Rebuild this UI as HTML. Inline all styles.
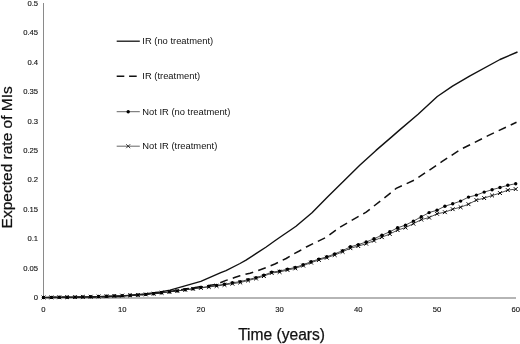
<!DOCTYPE html>
<html><head><meta charset="utf-8"><title>Expected rate of MIs</title>
<style>
html,body{margin:0;padding:0;background:#fff;}
body{width:520px;height:344px;overflow:hidden;}
svg{display:block;font-family:"Liberation Sans",Arial,sans-serif;}
</style></head><body>
<svg width="520" height="344" viewBox="0 0 520 344">
<rect width="520" height="344" fill="#fff"/>
<g stroke="#8a8a8a" stroke-width="1" fill="none">
<line x1="43.5" y1="3" x2="43.5" y2="298.3"/>
<line x1="43" y1="298" x2="516" y2="298" stroke="#9c9c9c" stroke-width="1.4"/>
</g>
<g font-size="7.7" fill="#111" stroke="#111" stroke-width="0.12"><text x="38.1" y="300.0" text-anchor="end">0</text><text x="38.1" y="270.6" text-anchor="end">0.05</text><text x="38.1" y="241.2" text-anchor="end">0.1</text><text x="38.1" y="211.8" text-anchor="end">0.15</text><text x="38.1" y="182.4" text-anchor="end">0.2</text><text x="38.1" y="153.0" text-anchor="end">0.25</text><text x="38.1" y="123.6" text-anchor="end">0.3</text><text x="38.1" y="94.2" text-anchor="end">0.35</text><text x="38.1" y="64.8" text-anchor="end">0.4</text><text x="38.1" y="35.4" text-anchor="end">0.45</text><text x="38.1" y="6.0" text-anchor="end">0.5</text><text x="43.5" y="311.6" text-anchor="middle">0</text><text x="122.2" y="311.6" text-anchor="middle">10</text><text x="200.9" y="311.6" text-anchor="middle">20</text><text x="279.6" y="311.6" text-anchor="middle">30</text><text x="358.3" y="311.6" text-anchor="middle">40</text><text x="437.0" y="311.6" text-anchor="middle">50</text><text x="515.7" y="311.6" text-anchor="middle">60</text></g>
<text x="281.6" y="340" font-size="15.6" text-anchor="middle" fill="#111" stroke="#111" stroke-width="0.25">Time (years)</text>
<text transform="translate(12,157.3) rotate(-90)" font-size="15.5" text-anchor="middle" fill="#111" stroke="#111" stroke-width="0.25">Expected rate of MIs</text>
<polyline points="43.5,297.5 83.0,297.1 122.0,296.2 130.0,295.4 145.0,294.0 160.0,292.0 170.0,290.1 200.8,281.4 220.8,272.7 226.0,270.6 240.0,263.5 246.0,260.1 257.5,252.7 266.2,247.0 274.9,240.8 283.2,235.0 290.6,230.0 296.0,226.2 312.0,212.8 328.0,196.4 344.0,180.8 360.0,165.0 376.0,150.4 392.0,136.6 400.0,129.6 418.1,114.3 437.3,96.5 452.5,86.2 470.0,75.8 500.0,59.5 517.5,52.0" fill="none" stroke="#111" stroke-width="1.4" stroke-linejoin="round"/>
<polyline points="43.5,297.5 83.0,297.1 122.0,296.4 130.0,295.6 150.0,294.0 170.0,291.5 200.8,286.6 215.0,284.6 218.0,283.6 226.0,280.4 230.0,279.2 234.6,277.5 240.0,275.7 250.0,273.2 257.5,270.8 266.2,267.6 274.9,264.0 286.2,258.5 292.4,254.6 299.3,251.0 306.3,247.0 326.4,237.2 340.0,227.1 366.2,212.1 391.3,192.4 396.2,188.4 415.1,179.7 442.2,161.4 461.1,149.2 488.1,135.7 516.5,122.2" fill="none" stroke="#111" stroke-width="1.5" stroke-dasharray="8 5.3" stroke-dashoffset="-5"/>
<polyline points="43.5,297.5 51.4,297.4 59.2,297.3 67.1,297.2 75.0,297.1 82.8,296.9 90.7,296.7 98.6,296.5 106.5,296.2 114.3,295.9 122.2,295.6 130.1,295.3 137.9,295.0 145.8,294.4 153.7,293.7 161.6,292.8 169.4,291.9 177.3,290.9 185.2,289.8 193.0,288.7 200.9,287.6 208.8,286.5 216.6,285.4 224.5,284.2 232.4,282.8 240.2,281.6 248.1,279.6 256.0,277.6 263.9,275.2 271.7,272.1 279.6,271.1 287.5,269.1 295.3,267.5 303.2,264.7 311.1,261.7 318.9,259.1 326.8,256.8 334.7,253.9 342.6,250.6 350.4,246.8 358.3,244.6 366.2,242.0 374.0,238.8 381.9,235.2 389.8,231.8 397.6,227.8 405.5,225.1 413.4,221.1 421.3,216.8 429.1,212.6 437.0,210.2 444.9,206.2 452.7,203.8 460.6,201.1 468.5,197.1 476.4,195.1 484.2,192.1 492.1,189.7 500.0,187.5 507.8,185.3 515.7,183.7" fill="none" stroke="#222" stroke-width="0.8"/>
<g fill="#000"><circle cx="43.5" cy="297.5" r="1.7"/><circle cx="51.4" cy="297.4" r="1.7"/><circle cx="59.2" cy="297.3" r="1.7"/><circle cx="67.1" cy="297.2" r="1.7"/><circle cx="75.0" cy="297.1" r="1.7"/><circle cx="82.8" cy="296.9" r="1.7"/><circle cx="90.7" cy="296.7" r="1.7"/><circle cx="98.6" cy="296.5" r="1.7"/><circle cx="106.5" cy="296.2" r="1.7"/><circle cx="114.3" cy="295.9" r="1.7"/><circle cx="122.2" cy="295.6" r="1.7"/><circle cx="130.1" cy="295.3" r="1.7"/><circle cx="137.9" cy="295.0" r="1.7"/><circle cx="145.8" cy="294.4" r="1.7"/><circle cx="153.7" cy="293.7" r="1.7"/><circle cx="161.6" cy="292.8" r="1.7"/><circle cx="169.4" cy="291.9" r="1.7"/><circle cx="177.3" cy="290.9" r="1.7"/><circle cx="185.2" cy="289.8" r="1.7"/><circle cx="193.0" cy="288.7" r="1.7"/><circle cx="200.9" cy="287.6" r="1.7"/><circle cx="208.8" cy="286.5" r="1.7"/><circle cx="216.6" cy="285.4" r="1.7"/><circle cx="224.5" cy="284.2" r="1.7"/><circle cx="232.4" cy="282.8" r="1.7"/><circle cx="240.2" cy="281.6" r="1.7"/><circle cx="248.1" cy="279.6" r="1.7"/><circle cx="256.0" cy="277.6" r="1.7"/><circle cx="263.9" cy="275.2" r="1.7"/><circle cx="271.7" cy="272.1" r="1.7"/><circle cx="279.6" cy="271.1" r="1.7"/><circle cx="287.5" cy="269.1" r="1.7"/><circle cx="295.3" cy="267.5" r="1.7"/><circle cx="303.2" cy="264.7" r="1.7"/><circle cx="311.1" cy="261.7" r="1.7"/><circle cx="318.9" cy="259.1" r="1.7"/><circle cx="326.8" cy="256.8" r="1.7"/><circle cx="334.7" cy="253.9" r="1.7"/><circle cx="342.6" cy="250.6" r="1.7"/><circle cx="350.4" cy="246.8" r="1.7"/><circle cx="358.3" cy="244.6" r="1.7"/><circle cx="366.2" cy="242.0" r="1.7"/><circle cx="374.0" cy="238.8" r="1.7"/><circle cx="381.9" cy="235.2" r="1.7"/><circle cx="389.8" cy="231.8" r="1.7"/><circle cx="397.6" cy="227.8" r="1.7"/><circle cx="405.5" cy="225.1" r="1.7"/><circle cx="413.4" cy="221.1" r="1.7"/><circle cx="421.3" cy="216.8" r="1.7"/><circle cx="429.1" cy="212.6" r="1.7"/><circle cx="437.0" cy="210.2" r="1.7"/><circle cx="444.9" cy="206.2" r="1.7"/><circle cx="452.7" cy="203.8" r="1.7"/><circle cx="460.6" cy="201.1" r="1.7"/><circle cx="468.5" cy="197.1" r="1.7"/><circle cx="476.4" cy="195.1" r="1.7"/><circle cx="484.2" cy="192.1" r="1.7"/><circle cx="492.1" cy="189.7" r="1.7"/><circle cx="500.0" cy="187.5" r="1.7"/><circle cx="507.8" cy="185.3" r="1.7"/><circle cx="515.7" cy="183.7" r="1.7"/></g>
<polyline points="43.5,297.5 51.4,297.4 59.2,297.3 67.1,297.2 75.0,297.1 82.8,296.9 90.7,296.7 98.6,296.5 106.5,296.2 114.3,295.9 122.2,295.6 130.1,295.3 137.9,295.0 145.8,294.4 153.7,293.7 161.6,292.8 169.4,291.9 177.3,290.9 185.2,289.8 193.0,288.8 200.9,287.9 208.8,286.9 216.6,286.0 224.5,284.9 232.4,283.7 240.2,282.5 248.1,280.5 256.0,278.5 263.9,276.1 271.7,273.0 279.6,272.0 287.5,270.0 295.3,268.4 303.2,265.6 311.1,262.6 318.9,260.0 326.8,257.7 334.7,255.0 342.6,251.8 350.4,248.2 358.3,246.1 366.2,243.7 374.0,240.7 381.9,237.2 389.8,234.0 397.6,230.1 405.5,227.6 413.4,223.7 421.3,219.6 429.1,217.6 437.0,213.8 444.9,212.2 452.7,209.2 460.6,207.2 468.5,204.2 476.4,200.1 484.2,198.1 492.1,195.5 500.0,193.1 507.8,190.1 515.7,189.1" fill="none" stroke="#222" stroke-width="0.8"/>
<g stroke="#000" stroke-width="1" fill="none"><path d="M41.6 295.6L45.4 299.4M41.6 299.4L45.4 295.6"/><path d="M49.5 295.5L53.3 299.3M49.5 299.3L53.3 295.5"/><path d="M57.3 295.4L61.1 299.2M57.3 299.2L61.1 295.4"/><path d="M65.2 295.3L69.0 299.1M65.2 299.1L69.0 295.3"/><path d="M73.1 295.2L76.9 299.0M73.1 299.0L76.9 295.2"/><path d="M80.9 295.0L84.8 298.8M80.9 298.8L84.8 295.0"/><path d="M88.8 294.8L92.6 298.6M88.8 298.6L92.6 294.8"/><path d="M96.7 294.6L100.5 298.4M96.7 298.4L100.5 294.6"/><path d="M104.6 294.3L108.4 298.1M104.6 298.1L108.4 294.3"/><path d="M112.4 294.0L116.2 297.8M112.4 297.8L116.2 294.0"/><path d="M120.3 293.7L124.1 297.5M120.3 297.5L124.1 293.7"/><path d="M128.2 293.4L132.0 297.2M128.2 297.2L132.0 293.4"/><path d="M136.0 293.1L139.8 296.9M136.0 296.9L139.8 293.1"/><path d="M143.9 292.5L147.7 296.3M143.9 296.3L147.7 292.5"/><path d="M151.8 291.8L155.6 295.6M151.8 295.6L155.6 291.8"/><path d="M159.7 290.9L163.5 294.7M159.7 294.7L163.5 290.9"/><path d="M167.5 290.0L171.3 293.8M167.5 293.8L171.3 290.0"/><path d="M175.4 289.0L179.2 292.8M175.4 292.8L179.2 289.0"/><path d="M183.3 287.9L187.1 291.7M183.3 291.7L187.1 287.9"/><path d="M191.1 286.9L194.9 290.7M191.1 290.7L194.9 286.9"/><path d="M199.0 286.0L202.8 289.8M199.0 289.8L202.8 286.0"/><path d="M206.9 285.1L210.7 288.8M206.9 288.8L210.7 285.1"/><path d="M214.7 284.1L218.5 287.9M214.7 287.9L218.5 284.1"/><path d="M222.6 283.1L226.4 286.8M222.6 286.8L226.4 283.1"/><path d="M230.5 281.8L234.3 285.6M230.5 285.6L234.3 281.8"/><path d="M238.3 280.6L242.2 284.4M238.3 284.4L242.2 280.6"/><path d="M246.2 278.6L250.0 282.4M246.2 282.4L250.0 278.6"/><path d="M254.1 276.6L257.9 280.4M254.1 280.4L257.9 276.6"/><path d="M262.0 274.2L265.8 278.0M262.0 278.0L265.8 274.2"/><path d="M269.8 271.1L273.6 274.9M269.8 274.9L273.6 271.1"/><path d="M277.7 270.1L281.5 273.9M277.7 273.9L281.5 270.1"/><path d="M285.6 268.1L289.4 271.9M285.6 271.9L289.4 268.1"/><path d="M293.4 266.5L297.2 270.3M293.4 270.3L297.2 266.5"/><path d="M301.3 263.7L305.1 267.5M301.3 267.5L305.1 263.7"/><path d="M309.2 260.7L313.0 264.5M309.2 264.5L313.0 260.7"/><path d="M317.1 258.1L320.8 261.9M317.1 261.9L320.8 258.1"/><path d="M324.9 255.8L328.7 259.6M324.9 259.6L328.7 255.8"/><path d="M332.8 253.1L336.6 256.9M332.8 256.9L336.6 253.1"/><path d="M340.7 249.9L344.5 253.7M340.7 253.7L344.5 249.9"/><path d="M348.5 246.3L352.3 250.1M348.5 250.1L352.3 246.3"/><path d="M356.4 244.2L360.2 248.0M356.4 248.0L360.2 244.2"/><path d="M364.3 241.8L368.1 245.6M364.3 245.6L368.1 241.8"/><path d="M372.1 238.8L375.9 242.6M372.1 242.6L375.9 238.8"/><path d="M380.0 235.3L383.8 239.1M380.0 239.1L383.8 235.3"/><path d="M387.9 232.1L391.7 235.9M387.9 235.9L391.7 232.1"/><path d="M395.8 228.2L399.5 232.0M395.8 232.0L399.5 228.2"/><path d="M403.6 225.7L407.4 229.5M403.6 229.5L407.4 225.7"/><path d="M411.5 221.8L415.3 225.6M411.5 225.6L415.3 221.8"/><path d="M419.4 217.7L423.2 221.5M419.4 221.5L423.2 217.7"/><path d="M427.2 215.7L431.0 219.5M427.2 219.5L431.0 215.7"/><path d="M435.1 211.9L438.9 215.7M435.1 215.7L438.9 211.9"/><path d="M443.0 210.3L446.8 214.1M443.0 214.1L446.8 210.3"/><path d="M450.8 207.3L454.6 211.1M450.8 211.1L454.6 207.3"/><path d="M458.7 205.3L462.5 209.1M458.7 209.1L462.5 205.3"/><path d="M466.6 202.3L470.4 206.1M466.6 206.1L470.4 202.3"/><path d="M474.5 198.2L478.2 202.0M474.5 202.0L478.2 198.2"/><path d="M482.3 196.2L486.1 200.0M482.3 200.0L486.1 196.2"/><path d="M490.2 193.6L494.0 197.4M490.2 197.4L494.0 193.6"/><path d="M498.1 191.2L501.9 195.0M498.1 195.0L501.9 191.2"/><path d="M505.9 188.2L509.7 192.0M505.9 192.0L509.7 188.2"/><path d="M513.8 187.2L517.6 191.0M513.8 191.0L517.6 187.2"/></g>
<g font-size="9.4" fill="#111" stroke="#111" stroke-width="0">
<line x1="116.7" y1="41.2" x2="139.8" y2="41.2" stroke="#111" stroke-width="1.3"/>
<text x="142.3" y="44.1">IR (no treatment)</text>
<line x1="116.7" y1="76.2" x2="139.8" y2="76.2" stroke="#111" stroke-width="1.5" stroke-dasharray="7.6 4.8"/>
<text x="142.3" y="79.1">IR (treatment)</text>
<line x1="116.7" y1="111.7" x2="139.8" y2="111.7" stroke="#333" stroke-width="0.75"/>
<circle cx="128.2" cy="111.7" r="1.7" fill="#000"/>
<text x="142.3" y="114.6">Not IR (no treatment)</text>
<line x1="116.7" y1="146.2" x2="139.8" y2="146.2" stroke="#333" stroke-width="0.75"/>
<path d="M126.2 144.2L130.2 148.2M126.2 148.2L130.2 144.2" stroke="#111" stroke-width="0.8" fill="none"/>
<text x="142.3" y="149.1">Not IR (treatment)</text>
</g>
</svg>
</body></html>
